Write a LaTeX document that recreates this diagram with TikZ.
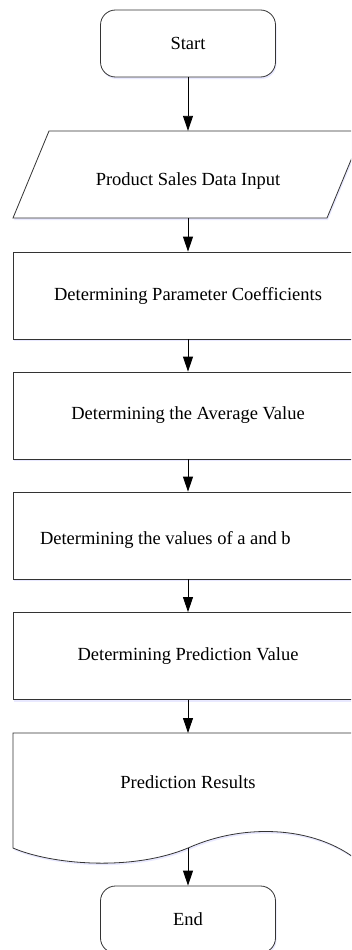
\documentclass[tikz,border=0pt]{standalone}
\usepackage{fontspec}
\setmainfont{Liberation Serif}
\usetikzlibrary{arrows.meta, shadows}

\begin{document}
\begin{tikzpicture}[x=1pt, y=-1pt,
        every node/.style={font=\fontsize{18.5}{22}\selectfont},
        shade/.style={drop shadow={shadow xshift=1pt, shadow yshift=-2pt, fill=blue!25, opacity=0.35}},
        outline/.style={draw=black!80, line width=0.8pt, fill=white, shade},
        terminal/.style={outline, rounded corners=15pt, minimum width=175pt, minimum height=67pt},
        process/.style={outline, minimum width=350pt, minimum height=87pt},
        flow/.style={-{Triangle[length=15pt, width=10pt]}, line width=0.9pt}]
            \clip (0,0) rectangle (351,950);
            \node [terminal] (start) at (188,43.5) {Start};
            \draw [outline] (13,218) -- (49,131) -- (363,131) -- (327,218) -- cycle;
            \node [minimum width=350pt, minimum height=87pt, text height=26pt, text depth=4pt] (input) at (188,174.5) {Product Sales Data Input};
            \node [process] (coef) at (188,295.5) {Determining Parameter Coefficients};
            \node [process] (average) at (188,415.5) {Determining the Average Value};
            \node [process, text width=296pt, inner xsep=27pt, align=flush left, text height=22pt, text depth=4pt] (ab) at (188,535.5) {Determining the values of a and b};
            \node [process] (predict) at (188,656) {Determining Prediction Value};
            \draw [outline] (13,733) -- (363,733) -- (363,865)
                .. controls (320,826) and (246,822) .. (188,848)
                .. controls (130,872) and (50,864) .. (13,848) -- cycle;
            \coordinate (resultstop) at (188,733);
            \coordinate (resultsbase) at (188,848);
            \node (results) at (188,782) {Prediction Results};
            \node [terminal] (end) at (188,919.5) {End};
            \foreach \a/\b in {start/input, input/coef, coef/average, average/ab, ab/predict, predict/resultstop, resultsbase/end}{
                \draw [flow] (\a) -- (\b);
            }
        \end{tikzpicture}
\end{document}
